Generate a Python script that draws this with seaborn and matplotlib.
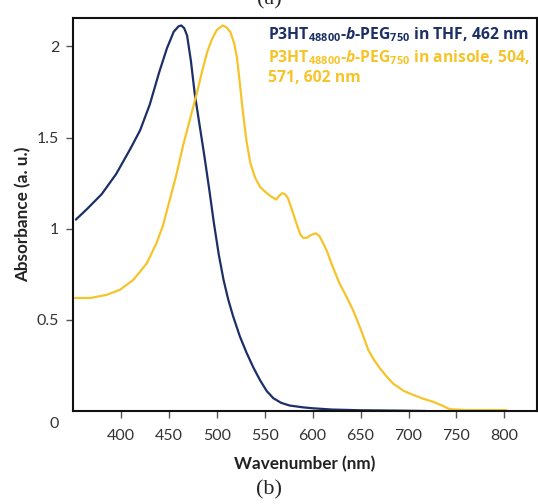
import matplotlib
matplotlib.use("Agg")
import matplotlib.pyplot as plt
import matplotlib.transforms as mtransforms
import seaborn as sns
import pandas as pd

# ---- data ----
thf_wl = [353, 365, 380, 395, 410, 420, 430, 440, 448, 455, 460, 463, 466, 469,
          473, 477, 482, 487, 492, 497, 502, 507, 512, 517, 524, 531, 538, 545,
          552, 559, 567, 576, 590, 600, 620, 650, 690, 718]
thf_abs = [1.05, 1.11, 1.19, 1.30, 1.44, 1.54, 1.68, 1.86, 1.99, 2.08, 2.11, 2.115, 2.10, 2.06,
           1.92, 1.74, 1.57, 1.40, 1.22, 1.03, 0.86, 0.72, 0.61, 0.52, 0.41, 0.32, 0.24, 0.17,
           0.11, 0.07, 0.045, 0.03, 0.02, 0.015, 0.008, 0.004, 0.002, 0.0]

ani_wl = [352, 368, 385, 399, 413, 427, 437, 444, 451, 458, 465, 472, 479, 485, 490, 495,
          500, 506, 510, 514, 518, 521, 524, 527, 531, 535, 540, 545, 551, 557, 562, 565,
          568, 571, 574, 578, 583, 587, 590, 594, 598, 603, 607, 611, 615, 621, 628, 635,
          642, 650, 658, 664, 670, 677, 684, 695, 705, 715, 726, 735, 743, 760, 780, 802]
ani_abs = [0.62, 0.62, 0.637, 0.665, 0.72, 0.81, 0.92, 1.02, 1.16, 1.30, 1.46, 1.60, 1.74, 1.87, 1.97, 2.04,
           2.09, 2.115, 2.105, 2.08, 2.02, 1.94, 1.80, 1.65, 1.48, 1.36, 1.28, 1.23, 1.20, 1.175, 1.16, 1.18,
           1.195, 1.19, 1.17, 1.11, 1.03, 0.97, 0.95, 0.95, 0.965, 0.975, 0.96, 0.92, 0.875, 0.79, 0.70, 0.63,
           0.555, 0.45, 0.335, 0.28, 0.235, 0.19, 0.15, 0.11, 0.088, 0.068, 0.05, 0.03, 0.01, 0.005, 0.005, 0.005]

x_ticks = [400, 450, 500, 550, 600, 650, 700, 750, 800]
y_ticks = [0, 0.5, 1, 1.5, 2]
y_tick_labels = ["0", "0.5", "1", "1.5", "2"]

label_thf = r"$\mathbf{P3HT}_{\mathbf{48800}}$-$\mathbfit{b}$-$\mathbf{PEG}_{\mathbf{750}}$ in THF, 462 nm"
label_ani_1 = r"$\mathbf{P3HT}_{\mathbf{48800}}$-$\mathbfit{b}$-$\mathbf{PEG}_{\mathbf{750}}$ in anisole, 504,"
label_ani_2 = "571, 602 nm"

NAVY = "#1c2f66"
GOLD = "#f6c42a"
LEG_FONT = "Open Sans"

sns.set_style("ticks")
plt.rcParams["font.family"] = ["Lato", "DejaVu Sans"]
plt.rcParams["mathtext.fontset"] = "custom"
plt.rcParams["mathtext.rm"] = LEG_FONT
plt.rcParams["mathtext.bf"] = LEG_FONT + ":bold"
plt.rcParams["mathtext.it"] = LEG_FONT + ":italic"
plt.rcParams["mathtext.bfit"] = LEG_FONT + ":bold:italic"

fig = plt.figure(figsize=(5.38, 5.04), dpi=100)
ax = fig.add_axes([73 / 538, 1 - 411 / 504, (537 - 73) / 538, (411 - 18) / 504])

df_thf = pd.DataFrame({"wl": thf_wl, "abs": thf_abs})
df_ani = pd.DataFrame({"wl": ani_wl, "abs": ani_abs})
sns.lineplot(data=df_thf, x="wl", y="abs", ax=ax, color=NAVY, linewidth=1.6)
sns.lineplot(data=df_ani, x="wl", y="abs", ax=ax, color=GOLD, linewidth=1.6)

ax.set_xlim(350, 834)
ax.set_ylim(0, 2.156)
ax.set_xticks(x_ticks)
ax.set_yticks(y_ticks)
ax.set_yticklabels(y_tick_labels)
ax.tick_params(axis="both", labelsize=11.5, length=5, width=1, color="#555555",
               labelcolor="#333333", direction="out")
ax.tick_params(axis="x", pad=8)
ax.tick_params(axis="y", pad=5)

# "0" label sits a bit below the axis in the reference
for lbl in ax.get_yticklabels():
    if lbl.get_text() == "0":
        lbl.set_transform(lbl.get_transform() + mtransforms.ScaledTranslation(0, -11 / 100, fig.dpi_scale_trans))
ax.get_yticklines()[0].set_visible(False)

for sp in ax.spines.values():
    sp.set_visible(True)
    sp.set_linewidth(1.5)
    sp.set_color("#111111")

ax.set_xlabel("Wavenumber (nm)", fontsize=12.3, fontweight="bold", color="#222222", labelpad=9)
ax.set_ylabel("Absorbance (a. u.)", fontsize=12.3, fontweight="bold", color="#222222", labelpad=4)

ax.text(0.42, 0.957, label_thf, transform=ax.transAxes, color=NAVY, fontsize=11.3,
        fontweight="bold", family=LEG_FONT, ha="left", va="center")
ax.text(0.42, 0.898, label_ani_1, transform=ax.transAxes, color=GOLD, fontsize=11.3,
        fontweight="bold", family=LEG_FONT, ha="left", va="center")
ax.text(0.42, 0.847, label_ani_2, transform=ax.transAxes, color=GOLD, fontsize=11.3,
        fontweight="bold", family=LEG_FONT, ha="left", va="center")

fig.text(0.5, 1.0, "(a)", ha="center", va="center", fontsize=16, family="Liberation Serif")
fig.text(0.5, 1 - 490 / 504, "(b)", ha="center", va="center", fontsize=16, family="Liberation Serif")

fig.savefig("out.png", dpi=100)
